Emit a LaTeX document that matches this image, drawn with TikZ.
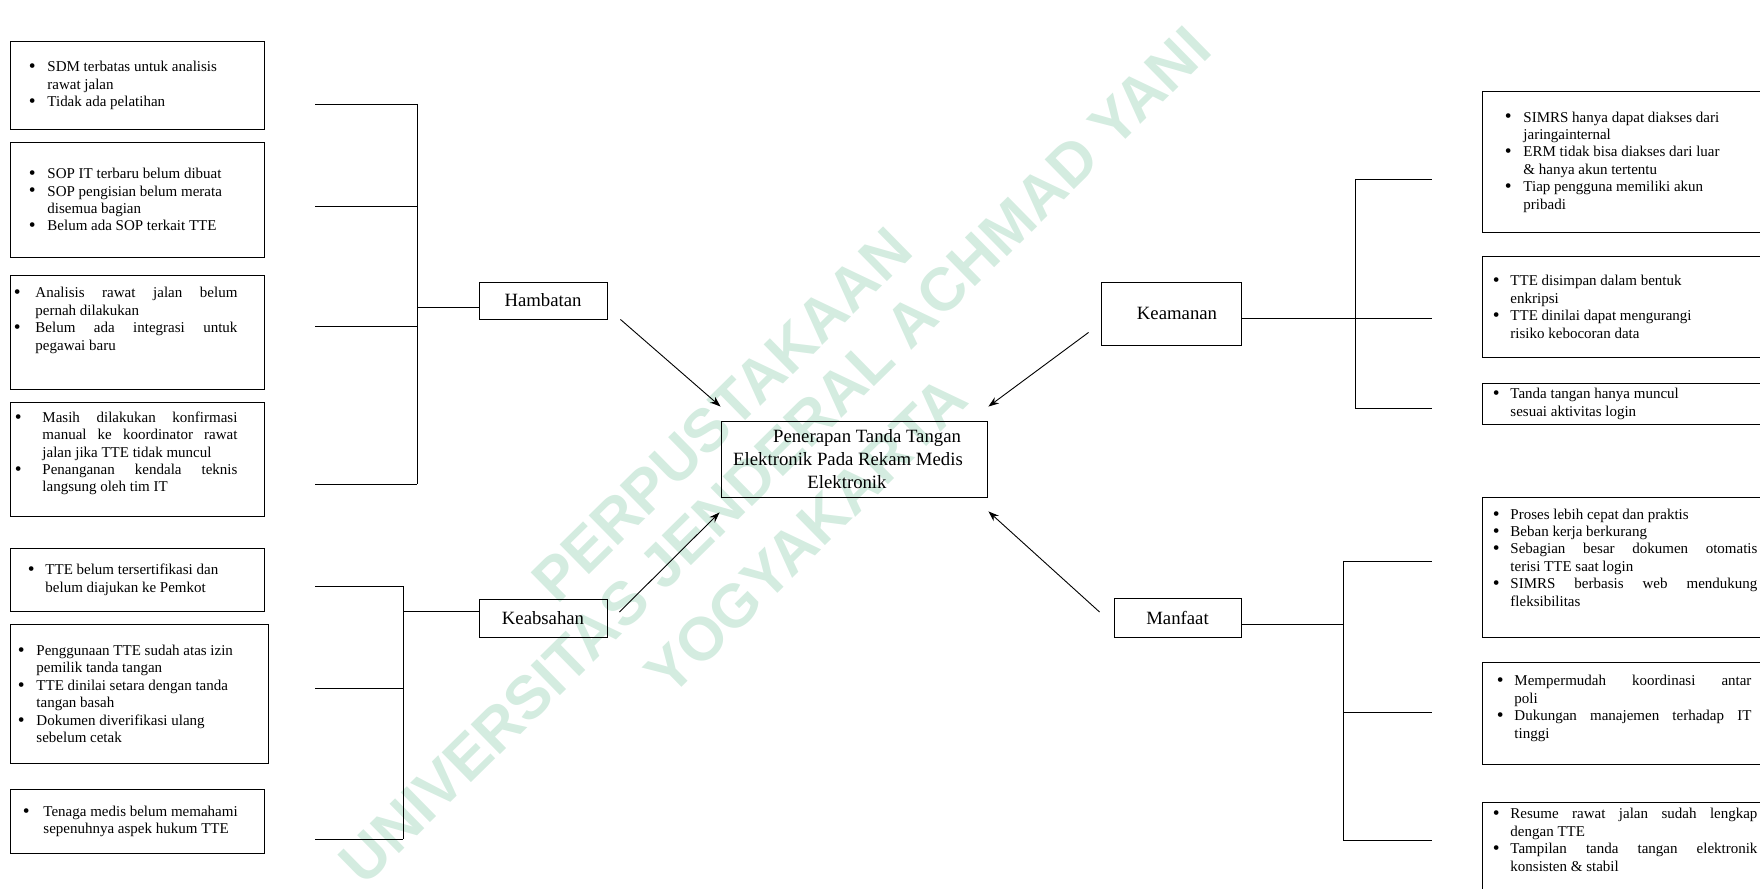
\documentclass[tikz,border=0pt]{standalone}
\usepackage{fontspec}
\setmainfont{Liberation Serif}
\newfontfamily\wmfont{Liberation Sans}
\usetikzlibrary{arrows.meta}

\definecolor{wmgreen}{RGB}{212,236,224}
\newdimen\pu \pu=0.667pt
\def\pux{0.667pt}
\newdimen\bltw
% box of bullet points: width, content
\newcommand\leaf[2]{\begin{minipage}{#1\pu}\fontsize{10}{11.6}\selectfont
  \tolerance=10000 \hyphenpenalty=10000 \parindent=0pt #2\end{minipage}}
\newcommand\rag[2]{\leftskip=#1\pu \bltw=#2\pu \rightskip=0pt plus 1fil\relax}
\newcommand\jus[3]{\leftskip=#1\pu \bltw=#2\pu \rightskip=#3\pu\relax}
\newcommand\itm[1]{\par\noindent\llap{\hbox to\bltw{\raisebox{-0.6pt}{\fontsize{13}{13}\selectfont\textbullet}\hfil}}#1}

\begin{document}
\begin{tikzpicture}[x=0.667pt,y=-0.667pt,line width=0.6pt,
  wm/.style={text=wmgreen,font=\wmfont\bfseries\fontsize{40.5}{48}\selectfont,inner sep=0pt},
  cat/.style={draw,inner sep=0pt,font=\fontsize{12.5}{15.3}\selectfont},
  leafnode/.style={draw,anchor=north west,inner sep=0pt},
  arr/.style={-{Stealth[length=7pt,width=5pt]}}]
\useasboundingbox (0,0) rectangle (1760,889);
\clip (0,0) rectangle (1760,889);

% watermark
\node[wm,rotate=44.5] (wmp) at (722,415) {PERPUSTAKAAN};
\node[wm,rotate=44.5] (wmu) at (775,455) {UNIVERSITAS JENDERAL ACHMAD YANI};
\node[wm,rotate=44.5] (wmy) at (806,536) {YOGYAKARTA};

% main topics
\node[cat,align=center,minimum width=266*\pux,minimum height=76*\pux] (cent) at (854,459)
  {\hspace*{26\pu}Penerapan Tanda Tangan\\Elektronik Pada Rekam Medis\kern12\pu\null\\Elektronik\kern14\pu\null};
\node[cat,minimum width=128*\pux,minimum height=37*\pux] (hamb) at (543,300.5) {Hambatan};
\node[cat,minimum width=128*\pux,minimum height=38*\pux] (keab) at (543,618) {Keabsahan};
\node[cat,minimum width=140*\pux,minimum height=63*\pux] (keam) at (1171,313.5) {\hspace*{12\pu}Keamanan};
\node[cat,minimum width=127*\pux,minimum height=39*\pux] (manf) at (1177.5,617.5) {Manfaat};

\draw[arr] ([shift={(13,0)}]hamb.south east) -- ([shift={(0,-14)}]cent.north west);
\draw[arr] ([shift={(12,-6)}]keab.east) -- ([shift={(-1,15)}]cent.south west);
\draw[arr] ([shift={(-12,-13)}]keam.south west) -- ([shift={(1,-14)}]cent.north east);
\draw[arr] ([shift={(-14,-5.5)}]manf.west) -- ([shift={(1,14)}]cent.south east);

% Hambatan
\node[leafnode,minimum height=88*\pux] (hb1) at (10,41) {\leaf{254}{\rag{37}{18.6}%
  \itm{SDM terbatas untuk analisis\newline rawat jalan}%
  \itm{Tidak ada pelatihan}}};
\node[leafnode,minimum height=115*\pux] (hb2) at (10,142) {\leaf{254}{\rag{37}{18.6}%
  \itm{SOP IT terbaru belum dibuat}%
  \itm{SOP pengisian belum merata\newline disemua bagian}%
  \itm{Belum ada SOP terkait TTE}}};
\node[leafnode,minimum height=114*\pux] (hb3) at (10,275) {\leaf{254}{\jus{25}{21.6}{27}%
  \itm{Analisis rawat jalan belum\linebreak pernah dilakukan}%
  \itm{Belum ada integrasi untuk\linebreak pegawai baru}\par\kern24\pu}};
\node[leafnode,minimum height=114*\pux] (hb4) at (10,402) {\leaf{254}{\jus{32}{27.6}{27}%
  \itm{Masih dilakukan konfirmasi\linebreak manual ke koordinator rawat\linebreak jalan jika TTE tidak muncul}%
  \itm{Penanganan kendala teknis\linebreak langsung oleh tim IT}\par\kern12\pu}};

\coordinate (hbt) at (417,104);
\coordinate (hbb) at (417,484);
\foreach \y [count=\i] in {104,206,326,484}
  {\coordinate (ha\i) at (315,\y); \draw (ha\i) -- (ha\i -| hbt);}
\draw (hbt) -- (hbb);
\draw (hamb.186) -- (hamb.186 -| hbt);

% Keabsahan
\node[leafnode,minimum height=63*\pux] (kb1) at (10,548) {\leaf{254}{\rag{35}{17.6}%
  \itm{TTE belum tersertifikasi dan\newline belum diajukan ke Pemkot}}};
\node[leafnode,minimum height=139*\pux] (kb2) at (10,624) {\leaf{258}{\rag{26}{18.6}%
  \itm{Penggunaan TTE sudah atas izin\newline pemilik tanda tangan}%
  \itm{TTE dinilai setara dengan tanda\newline tangan basah}%
  \itm{Dokumen diverifikasi ulang\newline sebelum cetak}}};
\node[leafnode,minimum height=64*\pux] (kb3) at (10,789) {\leaf{254}{\rag{33}{20.6}%
  \itm{Tenaga medis belum memahami\newline sepenuhnya aspek hukum TTE}}};

\coordinate (kbt) at (403,586);
\coordinate (kbb) at (403,839);
\foreach \y [count=\i] in {586,688,839}
  {\coordinate (ka\i) at (315,\y); \draw (ka\i) -- (ka\i -| kbt);}
\draw (kbt) -- (kbb);
\draw (keab.174) -- (keab.174 -| kbt);

% Keamanan
\node[leafnode,minimum height=141*\pux] (km1) at (1482,91) {\leaf{290}{\rag{41}{18.6}%
  \itm{SIMRS hanya dapat diakses dari\newline jaringainternal}%
  \itm{ERM tidak bisa diakses dari luar\newline \& hanya akun tertentu}%
  \itm{Tiap pengguna memiliki akun\newline pribadi}}};
\node[leafnode,minimum height=101*\pux] (km2) at (1482,256) {\leaf{290}{\rag{28}{17.6}%
  \itm{TTE disimpan dalam bentuk\newline enkripsi}%
  \itm{TTE dinilai dapat mengurangi\newline risiko kebocoran data}}};
\node[leafnode,minimum height=41*\pux] (km3) at (1482,383) {\leaf{290}{\rag{28}{17.6}%
  \itm{Tanda tangan hanya muncul\newline sesuai aktivitas login}}};

\coordinate (kmt) at (1355,179);
\coordinate (kmb) at (1355,408);
\foreach \y [count=\i] in {179,318,408}
  {\coordinate (kr\i) at (1432,\y); \draw (kmt |- kr\i) -- (kr\i);}
\draw (kmt) -- (kmb);
\draw (keam.-4) -- (keam.-4 -| kmt);

% Manfaat
\node[leafnode,minimum height=140*\pux] (mf1) at (1482,497) {\leaf{290}{\jus{28}{17.6}{15}%
  \itm{Proses lebih cepat dan praktis}%
  \itm{Beban kerja berkurang}%
  \itm{Sebagian besar dokumen otomatis\linebreak terisi TTE saat login}%
  \itm{SIMRS berbasis web mendukung\linebreak fleksibilitas}\par\kern20\pu}};
\node[leafnode,minimum height=102*\pux] (mf2) at (1482,662) {\leaf{290}{\jus{32}{17.6}{21}%
  \itm{Mempermudah koordinasi antar\linebreak poli}%
  \itm{Dukungan manajemen terhadap IT\linebreak tinggi}\par\kern10\pu}};
\node[leafnode,minimum height=100*\pux] (mf3) at (1482,802) {\leaf{290}{\jus{28}{17.6}{15}%
  \itm{Resume rawat jalan sudah lengkap\linebreak dengan TTE}%
  \itm{Tampilan tanda tangan elektronik\linebreak konsisten \& stabil}\par\kern25\pu}};

\coordinate (mft) at (1343,561);
\coordinate (mfb) at (1343,840);
\foreach \y [count=\i] in {561,712,840}
  {\coordinate (mr\i) at (1432,\y); \draw (mft |- mr\i) -- (mr\i);}
\draw (mft) -- (mfb);
\draw (manf.-6) -- (manf.-6 -| mft);
\end{tikzpicture}
\end{document}
